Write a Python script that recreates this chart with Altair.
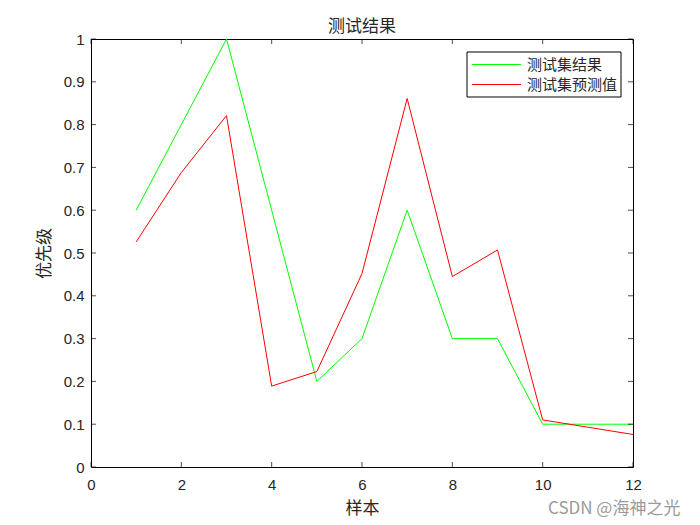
import altair as alt
import pandas as pd

samples = [1, 2, 3, 4, 5, 6, 7, 8, 9, 10, 11, 12]
actual = [0.6, 0.8, 1.0, 0.6, 0.2, 0.3, 0.6, 0.3, 0.3, 0.1, 0.1, 0.1]
predicted = [0.526, 0.688, 0.821, 0.189, 0.223, 0.452, 0.861, 0.445, 0.507, 0.110, 0.093, 0.076]
series_names = ["测试集结果", "测试集预测值"]
series_colors = ["#00ff00", "#ff0000"]
x_ticks = [0, 2, 4, 6, 8, 10, 12]
y_ticks = [0, 0.1, 0.2, 0.3, 0.4, 0.5, 0.6, 0.7, 0.8, 0.9, 1.0]

W, H = 542, 428
TXT = "#262626"
CJK = "Noto Sans CJK SC"
LAT = "Liberation Sans"

df = pd.DataFrame({
    "样本": samples * 2,
    "值": actual + predicted,
    "系列": [series_names[0]] * len(samples) + [series_names[1]] * len(samples),
})
xt = pd.DataFrame({"t": x_ticks})
yt = pd.DataFrame({"t": y_ticks})

xscale = alt.Scale(domain=[0, 12], nice=False, zero=False)
yscale = alt.Scale(domain=[0, 1], nice=False)
cscale = alt.Scale(domain=series_names, range=series_colors)

lines = alt.Chart(df).mark_line(strokeWidth=1).encode(
    x=alt.X("样本:Q", scale=xscale,
            axis=alt.Axis(values=x_ticks, ticks=False, domain=False, grid=False, labelFlush=False,
                          labelFont=LAT, labelFontSize=15, labelColor=TXT, labelPadding=10,
                          title="样本", titleFont=CJK, titleFontSize=17, titleFontWeight="normal",
                          titleColor=TXT, titlePadding=8)),
    y=alt.Y("值:Q", scale=yscale,
            axis=alt.Axis(values=y_ticks, format="~g", ticks=False, domain=False, grid=False,
                          labelFlush=False,
                          labelFont=LAT, labelFontSize=15, labelColor=TXT, labelPadding=7,
                          title="优先级", titleFont=CJK, titleFontSize=17, titleFontWeight="normal",
                          titleColor=TXT, titlePadding=10)),
    color=alt.Color("系列:N", scale=cscale, legend=None),
)

tk = dict(color="black", thickness=1, size=5)
xb = alt.Chart(xt).mark_tick(**tk).encode(x=alt.X("t:Q", scale=xscale), y=alt.value(H - 2.5))
xtop = alt.Chart(xt).mark_tick(**tk).encode(x=alt.X("t:Q", scale=xscale), y=alt.value(2.5))
yl = alt.Chart(yt).mark_tick(**tk).encode(y=alt.Y("t:Q", scale=yscale), x=alt.value(2.5))
yr = alt.Chart(yt).mark_tick(**tk).encode(y=alt.Y("t:Q", scale=yscale), x=alt.value(W - 2.5))

# legend (drawn as a boxed key in the upper right of the plot)
leg_df = pd.DataFrame({"系列": series_names})
leg_box = alt.Chart(pd.DataFrame({"k": [0]})).mark_rect(
    fill="white", stroke="black", strokeWidth=1
).encode(x=alt.value(376), x2=alt.value(530), y=alt.value(13), y2=alt.value(58))
leg_layers = [leg_box]
row_y = [25.5, 45.5]
for name, ry in zip(series_names, row_y):
    sub = alt.Chart(leg_df).transform_filter(alt.datum["系列"] == name)
    leg_layers.append(sub.mark_rule(strokeWidth=1).encode(
        x=alt.value(381), x2=alt.value(430), y=alt.value(ry),
        color=alt.Color("系列:N", scale=cscale, legend=None)))
    leg_layers.append(sub.mark_text(align="left", baseline="middle", font=CJK, fontSize=15,
                                    color=TXT).encode(
        x=alt.value(436), y=alt.value(ry), text="系列:N"))

wm = alt.Chart(pd.DataFrame({"s": ["CSDN @海神之光"]})).mark_text(
    align="left", baseline="middle", font=CJK, fontSize=17, color="#9a9a9a"
).encode(text="s:N", x=alt.value(457), y=alt.value(470))

chart = alt.layer(lines, xb, xtop, yl, yr, *leg_layers, wm).properties(
    width=W, height=H,
    background="white",
    title=alt.TitleParams("测试结果", font=CJK, fontSize=17, fontWeight="normal", color=TXT, offset=-4),
    autosize=alt.AutoSizeParams(type="none"),
    padding={"left": 83, "top": 31, "right": 59, "bottom": 58},
).configure_view(stroke="black", strokeWidth=1)

chart.save("out.html", embed_options={"renderer": "svg", "actions": False})
